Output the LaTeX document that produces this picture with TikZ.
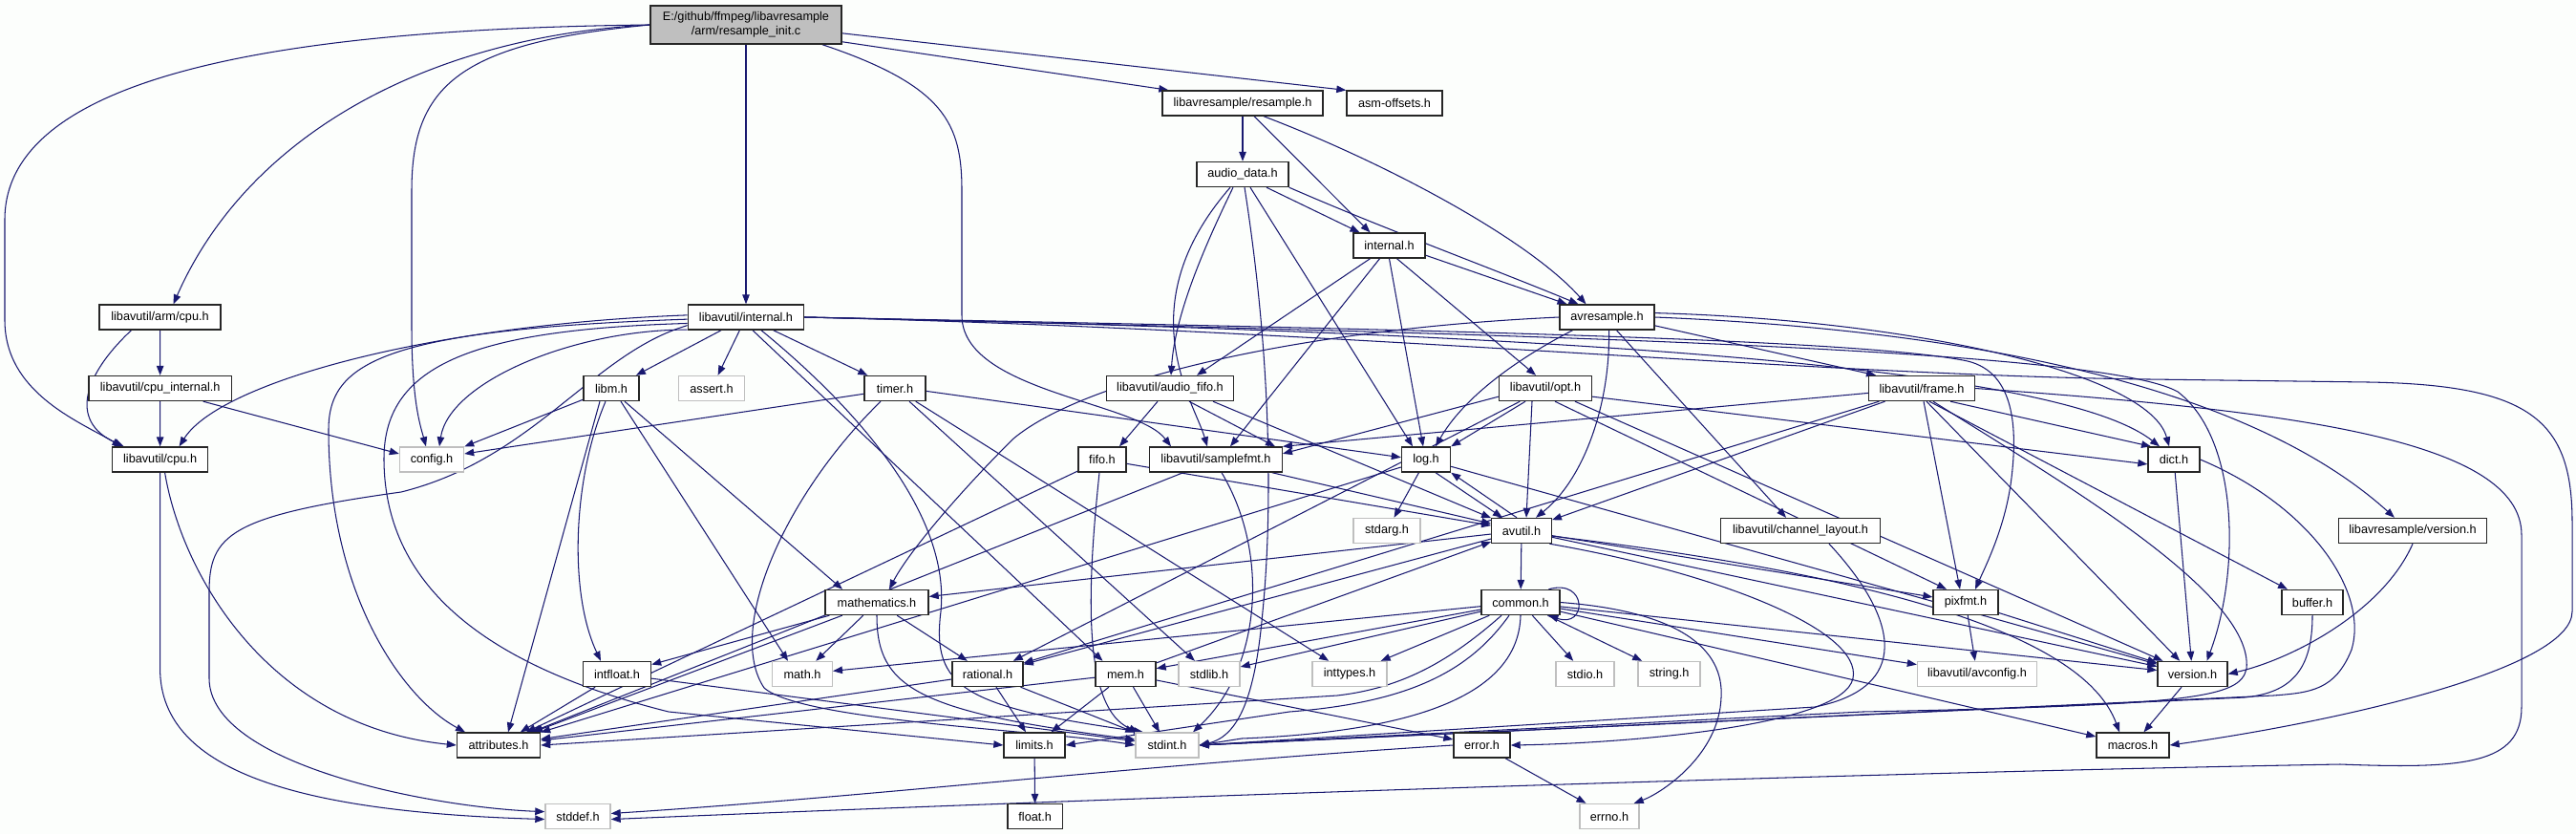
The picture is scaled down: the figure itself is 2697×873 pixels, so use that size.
\documentclass[tikz,border=0pt]{standalone}
\usepackage{fontspec}
\setmainfont{Liberation Sans}
\usetikzlibrary{arrows.meta}
\definecolor{edgec}{RGB}{25,25,112}
\definecolor{bgc}{RGB}{252,254,252}
\definecolor{graybd}{RGB}{191,191,191}
\definecolor{rootfill}{RGB}{191,191,191}
\pgfdeclarelayer{back}
\pgfdeclarelayer{edges}
\pgfsetlayers{back,edges,main}
\begin{document}
\begin{tikzpicture}[x=1pt,y=-1pt,
  nd/.style={draw=black!85, fill=white, line width=1.4pt, minimum height=26pt, inner sep=0pt, font=\fontsize{12.7}{15}\selectfont},
  gn/.style={nd, draw=graybd},
  e/.style={draw=edgec, line width=1.05pt, -{Triangle[length=10pt,width=7.5pt]}}
]
\begin{pgfonlayer}{back}
\fill[bgc] (0,0) rectangle (2697,873);
\end{pgfonlayer}
\useasboundingbox (0,0) rectangle (2697,873);
% nodes
\node[nd, fill=rootfill, minimum width=200pt, minimum height=40pt, align=center] (root) at (781,26) {E:/github/ffmpeg/libavresample\\/arm/resample\_init.c};
\node[nd, minimum width=168pt] (resample) at (1301,108) {libavresample/resample.h};
\node[nd, minimum width=100pt] (asmoff) at (1460,108) {asm-offsets.h};
\node[nd, minimum width=96pt] (audiodata) at (1301,182.5) {audio\_data.h};
\node[nd, minimum width=75pt] (internal) at (1454.5,257) {internal.h};
\node[nd, minimum width=127pt] (armcpu) at (167.5,332) {libavutil/arm/cpu.h};
\node[nd, minimum width=121.5pt] (lavuint) at (781,332) {libavutil/internal.h};
\node[nd, minimum width=99pt] (avres) at (1682.5,332) {avresample.h};
\node[nd, minimum width=149.5pt] (cpuint) at (167.7,406.5) {libavutil/cpu\_internal.h};
\node[nd, minimum width=58pt] (libm) at (640,406.5) {libm.h};
\node[gn, minimum width=69pt] (assert) at (745,406.5) {assert.h};
\node[nd, minimum width=64pt] (timer) at (937,406.5) {timer.h};
\node[nd, minimum width=133.5pt] (fifoaud) at (1225,406.5) {libavutil/audio\_fifo.h};
\node[nd, minimum width=97pt] (opt) at (1618,406.5) {libavutil/opt.h};
\node[nd, minimum width=111pt] (frame) at (2012,406.5) {libavutil/frame.h};
\node[nd, minimum width=100pt] (cpu) at (167.6,481) {libavutil/cpu.h};
\node[gn, minimum width=67pt] (config) at (452,481) {config.h};
\node[nd, minimum width=50pt] (fifo) at (1154,481) {fifo.h};
\node[nd, minimum width=138.5pt] (samplefmt) at (1273,481) {libavutil/samplefmt.h};
\node[nd, minimum width=51pt] (log) at (1493,481) {log.h};
\node[nd, minimum width=54pt] (dict) at (2276,481) {dict.h};
\node[gn, minimum width=70pt] (stdarg) at (1452,555.5) {stdarg.h};
\node[nd, minimum width=62.5pt] (avutil) at (1593,555.5) {avutil.h};
\node[nd, minimum width=167pt] (chlayout) at (1885,555.5) {libavutil/channel\_layout.h};
\node[nd, minimum width=155pt] (resver) at (2526,555.5) {libavresample/version.h};
\node[nd, minimum width=108pt] (mathematics) at (918,630.5) {mathematics.h};
\node[nd, minimum width=82pt] (common) at (1592,630.5) {common.h};
\node[nd, minimum width=68pt] (pixfmt) at (2058,630.5) {pixfmt.h};
\node[nd, minimum width=64pt] (buffer) at (2421,630.5) {buffer.h};
\node[nd, minimum width=71pt] (intfloat) at (646,705.5) {intfloat.h};
\node[gn, minimum width=62.5pt] (mathh) at (840,705.5) {math.h};
\node[nd, minimum width=74pt] (rational) at (1034,705.5) {rational.h};
\node[nd, minimum width=63pt] (mem) at (1178.5,705.5) {mem.h};
\node[gn, minimum width=64pt] (stdlib) at (1266,705.5) {stdlib.h};
\node[gn, minimum width=78pt] (inttypes) at (1413,705.5) {inttypes.h};
\node[gn, minimum width=61pt] (stdio) at (1659.5,705.5) {stdio.h};
\node[gn, minimum width=65pt] (stringh) at (1747.6,705.5) {string.h};
\node[gn, minimum width=125pt] (avconfig) at (2070,705.5) {libavutil/avconfig.h};
\node[nd, minimum width=73pt] (version) at (2295.5,705.5) {version.h};
\node[nd, minimum width=87pt] (attributes) at (522,780) {attributes.h};
\node[nd, minimum width=64pt] (limits) at (1083,780) {limits.h};
\node[gn, minimum width=66pt] (stdint) at (1222,780) {stdint.h};
\node[nd, minimum width=59pt] (errorh) at (1551.5,780) {error.h};
\node[nd, minimum width=76pt] (macros) at (2233,780) {macros.h};
\node[gn, minimum width=68pt] (stddef) at (605,854.5) {stddef.h};
\node[nd, minimum width=57.5pt] (floath) at (1083.7,854.5) {float.h};
\node[gn, minimum width=62pt] (errno) at (1685,854.5) {errno.h};

\begin{pgfonlayer}{edges}
% root
\draw[e] (root.west) .. controls (330,30) and (5,70) .. (5,230) -- (5,335) .. controls (5,410) and (80,440) .. ([xshift=-40pt]cpu.north);
\draw[e] (root.west) .. controls (450,38) and (260,140) .. ([xshift=14pt]armcpu.north);
\draw[e] (root.west) .. controls (480,45) and (431,90) .. (431,200) -- (431,340) .. controls (431,420) and (440,445) .. ([xshift=-6pt]config.north);
\draw[e] (root) -- (lavuint);
\draw[e] ([xshift=80pt]root.south) .. controls (990,90) and (1007,130) .. (1007,200) -- (1007,330) .. controls (1007,410) and (1190,420) .. ([xshift=-47pt]samplefmt.north);
\draw[e] (root.-10) -- (resample.170);
\draw[e] (root.-5) -- (asmoff.165);
% resample
\draw[e] (resample) -- (audiodata);
\draw[e] ([xshift=12pt]resample.south) -- ([xshift=-20pt]internal.north);
\draw[e] ([xshift=22pt]resample.south) .. controls (1450,170) and (1600,250) .. ([xshift=-22pt]avres.north);
% audio_data
\draw[e] ([xshift=25pt]audiodata.south) -- ([xshift=-31pt]internal.north);
\draw[e] (audiodata.south east) .. controls (1450,240) and (1560,280) .. ([xshift=-30pt]avres.north);
\draw[e] ([xshift=-10pt]audiodata.south) .. controls (1260,260) and (1230,330) .. ([xshift=1pt]fifoaud.north);
\draw[e] ([xshift=-13pt]audiodata.south) .. controls (1180,320) and (1250,420) .. ([xshift=-9pt]samplefmt.north);
\draw[e] ([xshift=8pt]audiodata.south) -- ([xshift=-14pt]log.north);
\draw[e] ([xshift=2pt]audiodata.south) .. controls (1335,400) and (1330,560) .. (1322,640) .. controls (1315,720) and (1300,770) .. (stdint.east);
% internal
\draw[e] (internal.-15) -- ([xshift=-42pt]avres.north);
\draw[e] ([xshift=-20pt]internal.south) -- ([xshift=28pt]fifoaud.north);
\draw[e] ([xshift=-10pt]internal.south) -- ([xshift=15pt]samplefmt.north);
\draw[e] (internal.south) -- ([xshift=-3pt]log.north);
\draw[e] ([xshift=8pt]internal.south) -- ([xshift=-10pt]opt.north);
% arm/cpu.h
\draw[e] (armcpu) -- (cpuint);
\draw[e] ([xshift=-30pt]armcpu.south) .. controls (90,390) and (70,440) .. ([xshift=-38pt]cpu.north);
% cpu_internal
\draw[e] (cpuint) -- (cpu);
\draw[e] ([xshift=45pt]cpuint.south) -- (config.170);
% cpu.h
\draw[e] ([xshift=5pt]cpu.south) .. controls (190,600) and (280,760) .. (attributes.west);
\draw[e] (cpu.south) -- (167.6,700) .. controls (167.6,810) and (320,850) .. (stddef.185);
% libavutil/internal.h
\draw[e] (lavuint.178) .. controls (450,340) and (230,400) .. ([xshift=20pt]cpu.north);
\draw[e] (lavuint.182) .. controls (400,345) and (344,380) .. (344,450) .. controls (344,620) and (420,730) .. ([xshift=-35pt]attributes.north);
\draw[e] (lavuint.188) .. controls (620,370) and (560,480) .. (420,515) .. controls (240,540) and (219,560) .. (219,620) -- (219,710) .. controls (219,800) and (450,845) .. (stddef.172);
\draw[e] (lavuint.192) .. controls (600,345) and (470,400) .. ([xshift=8pt]config.north);
\draw[e] (lavuint.186) .. controls (500,345) and (402,380) .. (402,480) .. controls (402,620) and (520,700) .. (700,745) -- (limits.west);
\draw[e] (lavuint) -- (libm);
\draw[e] (lavuint) -- (assert);
\draw[e] (lavuint) -- (timer);
\draw[e] ([xshift=7pt]lavuint.south) -- ([xshift=-24pt]mem.north);
\draw[e] ([xshift=16pt]lavuint.south) .. controls (900,430) and (995,540) .. (985,640) .. controls (975,720) and (1010,740) .. ([xshift=-25pt]stdint.north);
\draw[e] (lavuint.east) .. controls (1600,348) and (2150,380) .. ([xshift=-15pt]dict.north);
\draw[e] (lavuint.east) .. controls (1500,345) and (1950,355) .. (2060,378) .. controls (2110,390) and (2112,450) .. (2106,500) .. controls (2100,550) and (2080,590) .. ([xshift=10pt]pixfmt.north);
\draw[e] (lavuint.east) .. controls (1600,350) and (2200,365) .. (2280,410) .. controls (2345,460) and (2345,600) .. ([xshift=15pt]version.north);
\draw[e] (lavuint.east) .. controls (1400,345) and (1900,393) .. (2250,397) -- (2480,400) .. controls (2650,403) and (2693,440) .. (2693,547) -- (2693,640) .. controls (2693,700) and (2450,755) .. (macros.east);
% avresample.h
\draw[e] ([xshift=2pt]avres.south) .. controls (1686,420) and (1660,500) .. ([xshift=15pt]avutil.north);
\draw[e] ([xshift=10pt]avres.south) -- ([xshift=-15pt]chlayout.north);
\draw[e] (avres.-10) -- ([xshift=-48pt]frame.north);
\draw[e] ([xshift=-36pt]avres.south) .. controls (1580,380) and (1530,420) .. ([xshift=10pt]log.north);
\draw[e] (avres.west) .. controls (1350,345) and (1130,400) .. (1060,460) .. controls (1000,520) and (950,580) .. ([xshift=13pt]mathematics.north);
\draw[e] (avres.5) .. controls (2000,335) and (2250,390) .. ([xshift=-5pt]dict.north);
\draw[e] (avres.0) .. controls (2050,345) and (2350,400) .. ([xshift=-19pt]resver.north);
% libm.h
\draw[e] (libm) -- (config);
\draw[e] ([xshift=-6pt]libm.south) .. controls (600,500) and (595,620) .. ([xshift=-17pt]intfloat.north);
\draw[e] ([xshift=10pt]libm.south) -- ([xshift=-15pt]mathh.north);
\draw[e] ([xshift=14pt]libm.south) -- ([xshift=-36pt]mathematics.north);
\draw[e] ([xshift=-12pt]libm.south) -- ([xshift=10pt]attributes.north);
% timer.h
\draw[e] (timer.190) -- (config.10);
\draw[e] (timer.-5) -- (log.175);
\draw[e] (timer) -- (stdlib);
\draw[e] (timer) -- (inttypes);
\draw[e] ([xshift=-15pt]timer.south) .. controls (820,520) and (760,660) .. (800,720) .. controls (840,755) and (1100,765) .. (stdint.west);
% audio_fifo
\draw[e] ([xshift=-13pt]fifoaud.south) -- ([xshift=18pt]fifo.north);
\draw[e] ([xshift=20pt]fifoaud.south) -- ([xshift=62pt]samplefmt.north);
\draw[e] ([xshift=45pt]fifoaud.south) -- (avutil);
% opt.h
\draw[e] (opt.190) -- (samplefmt.5);
\draw[e] ([xshift=-21pt]opt.south) -- (log.north east);
\draw[e] ([xshift=-14pt]opt.south) -- ([xshift=5pt]avutil.north);
\draw[e] (opt) -- (rational);
\draw[e] ([xshift=10pt]opt.south) -- ([xshift=-20pt]pixfmt.north);
\draw[e] (opt) -- (version);
\draw[e] (opt.-10) -- (dict.190);
% frame.h
\draw[e] (frame) -- (avutil);
\draw[e] (frame.185) -- (samplefmt.north east);
\draw[e] (frame) -- (rational);
\draw[e] ([xshift=2pt]frame.south) -- ([xshift=-6pt]pixfmt.north);
\draw[e] ([xshift=8pt]frame.south) -- (buffer);
\draw[e] ([xshift=5pt]frame.south) -- (version);
\draw[e] ([xshift=30pt]frame.south) -- ([xshift=-24pt]dict.north);
\draw[e] ([xshift=12pt]frame.south) .. controls (2150,500) and (2360,620) .. (2352,700) .. controls (2345,730) and (2300,738) .. (1950,745) -- (stdint.east);
\draw[e] (frame.east) .. controls (2400,430) and (2640,460) .. (2640,560) -- (2640,740) .. controls (2640,800) and (2580,805) .. (2450,800) .. controls (2000,808) and (1300,830) .. (stddef.-5);
% fifo.h
\draw[e] (fifo) -- (attributes);
\draw[e] (fifo) -- (avutil);
\draw[e] ([xshift=-3pt]fifo.south) .. controls (1140,600) and (1130,740) .. ([xshift=-30pt]stdint.north);
% samplefmt.h
\draw[e] (samplefmt) -- (attributes);
\draw[e] (samplefmt) -- (avutil);
\draw[e] ([xshift=6pt]samplefmt.south) .. controls (1330,580) and (1320,700) .. ([xshift=27pt]stdint.north);
% log.h
\draw[e] (log) -- (stdarg);
\draw[e] ([xshift=10pt]log.south) -- ([xshift=-20pt]avutil.north);
\draw[e] ([xshift=-5pt]avutil.north) -- (log.south east);
\draw[e] (log) -- (attributes);
\draw[e] (log) -- (version);
% dict.h
\draw[e] (dict) -- (version);
\draw[e] (dict.east) .. controls (2420,530) and (2480,620) .. (2462,680) .. controls (2445,722) and (2420,725) .. (2380,728) -- (stdint.east);
% avutil.h
\draw[e] (avutil) -- (common);
\draw[e] (avutil) -- (mathematics);
\draw[e] (avutil) -- (rational);
\draw[e] (avutil) -- (version);
\draw[e] (avutil) -- (pixfmt);
\draw[e] (avutil.-10) .. controls (1950,600) and (2180,660) .. ([xshift=-14pt]macros.north);
\draw[e] (avutil.-25) .. controls (1800,600) and (1950,660) .. (1940,710) .. controls (1930,760) and (1700,778) .. (errorh.east);
% common.h
\draw[e] (common.25) .. controls (1662,605) and (1662,658) .. (common.-25);
\draw[e] (common.east) .. controls (1760,640) and (1805,680) .. (1802,730) .. controls (1800,790) and (1740,830) .. ([xshift=-6pt]errno.north east);
\draw[e] (common) -- (inttypes);
\draw[e] (common) -- (stdio);
\draw[e] (common) -- (stringh);
\draw[e] ([xshift=-12pt]common.south) .. controls (1540,700) and (1480,735) .. (1350,745) -- (limits.east);
\draw[e] ([xshift=-20pt]common.south) .. controls (1520,690) and (1470,720) .. (1400,728) -- (attributes.east);
\draw[e] (common.south) .. controls (1590,720) and (1500,765) .. (1300,773) -- (stdint.east);
\draw[e] (common) -- (mathh);
\draw[e] (common) -- (stdlib);
\draw[e] (common) -- (mem);
\draw[e] (common) -- (avconfig);
\draw[e] (common) -- (version);
\draw[e] (common) -- (macros);
% mathematics.h
\draw[e] (mathematics) -- (intfloat);
\draw[e] (mathematics) -- (attributes);
\draw[e] (mathematics) -- (mathh);
\draw[e] (mathematics) -- (rational);
\draw[e] (mathematics.south) .. controls (918,720) and (960,745) .. (stdint.170);
% pixfmt, buffer, version, channel_layout
\draw[e] (pixfmt) -- (avconfig);
\draw[e] (pixfmt) -- (version);
\draw[e] (buffer.south) .. controls (2421,700) and (2400,725) .. (2350,730) -- (stdint.east);
\draw[e] (resver.south) .. controls (2495,640) and (2400,690) .. (version.east);
\draw[e] ([xshift=30pt]chlayout.south) .. controls (1990,650) and (2000,720) .. (1900,740) -- (stdint.east);
% intfloat, rational, mem
\draw[e] (intfloat) -- (attributes);
\draw[e] (intfloat) -- (stdint);
\draw[e] (rational) -- (stdint);
\draw[e] (rational) -- (limits);
\draw[e] (rational) -- (attributes);
\draw[e] (mem) -- (limits);
\draw[e] (mem) -- (stdint);
\draw[e] (mem) -- (attributes);
\draw[e] (mem) -- (errorh);
\draw[e] (mem) -- (avutil);
% version, error, limits
\draw[e] (version) -- (macros);
\draw[e] (errorh) -- (errno);
\draw[e] (errorh.west) .. controls (1200,800) and (900,835) .. (stddef.5);
\draw[e] (limits) -- (floath);
\end{pgfonlayer}
\end{tikzpicture}
\end{document}
